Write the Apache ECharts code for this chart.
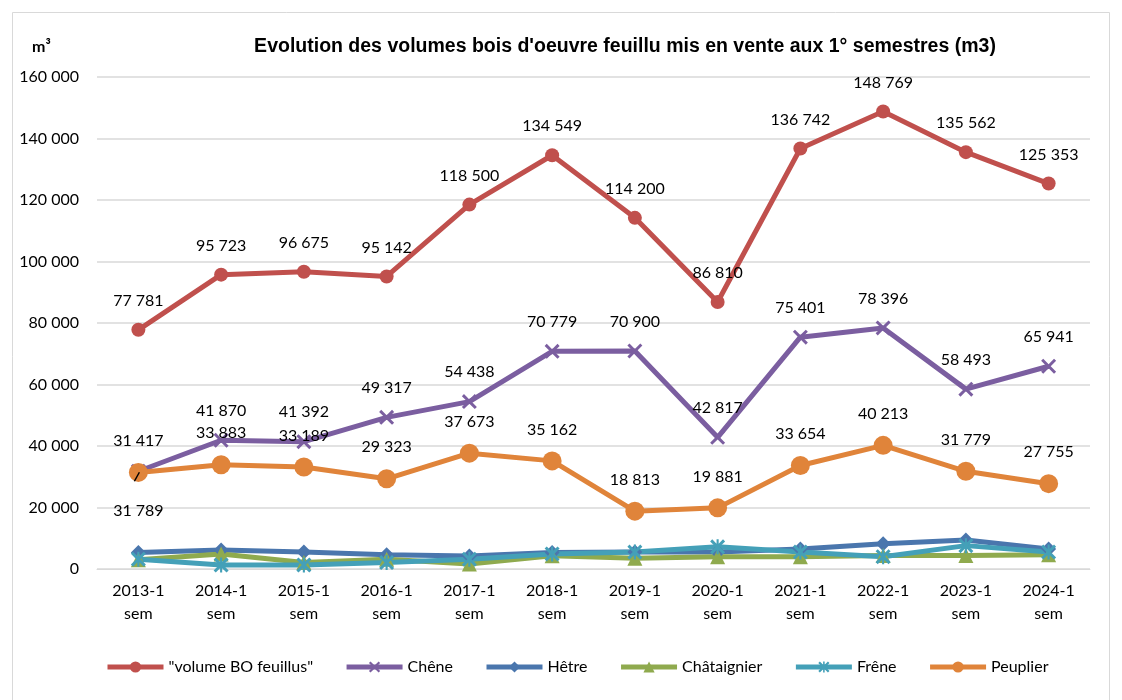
<!DOCTYPE html>
<html><head><meta charset="utf-8">
<script src="https://cdn.jsdelivr.net/npm/echarts@6/dist/echarts.min.js"></script>
<style>html,body{margin:0;padding:0;background:#fff}#c{width:1122px;height:700px}</style>
</head><body><div id="c"></div>
<script>
const categories = ["2013-1\nsem","2014-1\nsem","2015-1\nsem","2016-1\nsem","2017-1\nsem","2018-1\nsem","2019-1\nsem","2020-1\nsem","2021-1\nsem","2022-1\nsem","2023-1\nsem","2024-1\nsem"];
const volumeBO = [77781,95723,96675,95142,118500,134549,114200,86810,136742,148769,135562,125353];
const chene = [31789,41870,41392,49317,54438,70779,70900,42817,75401,78396,58493,65941];
const hetre = [5400,6200,5500,4600,4200,5400,5500,5500,6500,8200,9400,6500];
const chataignier = [3000,4900,2100,3200,1600,4300,3500,4000,4000,4400,4400,4600];
const frene = [3200,1300,1300,2100,3200,4900,5500,7200,5500,4000,7600,5500];
const peuplier = [31417,33883,33189,29323,37673,35162,18813,19881,33654,40213,31779,27755];
const yTicks = {min:0, max:160000, interval:20000};

const fmt = v => String(v).replace(/\B(?=(\d{3})+(?!\d))/g,' ');
const FONT = 'Lato, "Liberation Sans", sans-serif';
const xSym = 'path://M0,1.4 L1.4,0 L5,3.6 L8.6,0 L10,1.4 L6.4,5 L10,8.6 L8.6,10 L5,6.4 L1.4,10 L0,8.6 L3.6,5 Z';
const astSym = 'path://M0,1.4 L1.4,0 L4.3,2.9 L4.3,0 L5.7,0 L5.7,2.9 L8.6,0 L10,1.4 L6.4,5 L10,8.6 L8.6,10 L5.7,7.1 L5.7,10 L4.3,10 L4.3,7.1 L1.4,10 L0,8.6 L3.6,5 Z';

const lbl = {show:true, position:'top', distance:14, color:'#000', fontSize:16, fontFamily:FONT, formatter:p=>fmt(p.value)};

function mk(name, data, color, symbol, size, label){
  return {name, type:'line', data, symbol, symbolSize:size, showSymbol:true,
    lineStyle:{color, width:5}, itemStyle:{color, borderWidth:0},
    label: label || {show:false}, z:2, emphasis:{disabled:true}, animation:false};
}
const cheneData = chene.map((v,i)=> i===0 ? {value:v, label:{position:'bottom', distance:24}} : v);

const baseGraphic = [
  {type:'rect', shape:{x:12.5,y:12.5,width:1097,height:700}, style:{fill:'none', stroke:'#d9d9d9', lineWidth:1}, silent:true},
  {type:'text', left:32, top:39, style:{text:'m³', font:'bold 16px '+FONT, fill:'#000'}}
];

const chart = echarts.init(document.getElementById('c'));
chart.setOption({
  animation:false,
  backgroundColor:'#fff',
  textStyle:{fontFamily:FONT},
  title:{text:"Evolution des volumes bois d'oeuvre feuillu mis en vente aux 1° semestres (m3)", left:620, top:32, textAlign:'center',
    textStyle:{fontSize:19.5, fontWeight:'bold', color:'#000', fontFamily:'"Liberation Sans", Arial, sans-serif'}},
  graphic: baseGraphic,
  grid:{left:97, right:32, top:77, bottom:131, containLabel:false},
  legend:{bottom:20, left:100, itemWidth:56, itemHeight:14, itemGap:31,
    lineStyle:{width:5},
    textStyle:{fontSize:16, color:'#000', fontFamily:FONT},
    data:['"volume BO feuillus"','Chêne','Hêtre','Châtaignier','Frêne','Peuplier']},
  xAxis:{type:'category', data:categories, boundaryGap:true,
    axisLine:{lineStyle:{color:'#d9d9d9', width:1}}, axisTick:{show:false},
    axisLabel:{color:'#000', fontSize:16, lineHeight:23, margin:10, fontFamily:FONT}},
  yAxis:{type:'value', min:yTicks.min, max:yTicks.max, interval:yTicks.interval,
    axisLine:{show:false}, axisTick:{show:false},
    splitLine:{lineStyle:{color:'#d9d9d9', width:1.5}},
    axisLabel:{color:'#000', fontSize:16, margin:18, fontFamily:FONT, formatter:v=>fmt(v)}},
  series:[
    mk('"volume BO feuillus"', volumeBO, '#C0504D', 'circle', 14, lbl),
    mk('Chêne', cheneData, '#7B5EA0', xSym, 15, lbl),
    mk('Hêtre', hetre, '#4A76AD', 'diamond', 15),
    mk('Châtaignier', chataignier, '#8FAA4E', 'triangle', 15),
    mk('Frêne', frene, '#44A0B8', astSym, 15),
    mk('Peuplier', peuplier, '#E0843A', 'circle', 19, lbl)
  ]
});
// leader line for the Chêne 2013 label placed below its point
const p0 = chart.convertToPixel({gridIndex:0}, [0, chene[0]]);
chart.setOption({graphic: baseGraphic.concat([
  {type:'line', shape:{x1:p0[0]-4, y1:p0[1]+10, x2:p0[0]+1, y2:p0[1]+1}, style:{stroke:'#000', lineWidth:1.5}, z:10, silent:true}
])});
</script></body></html>
